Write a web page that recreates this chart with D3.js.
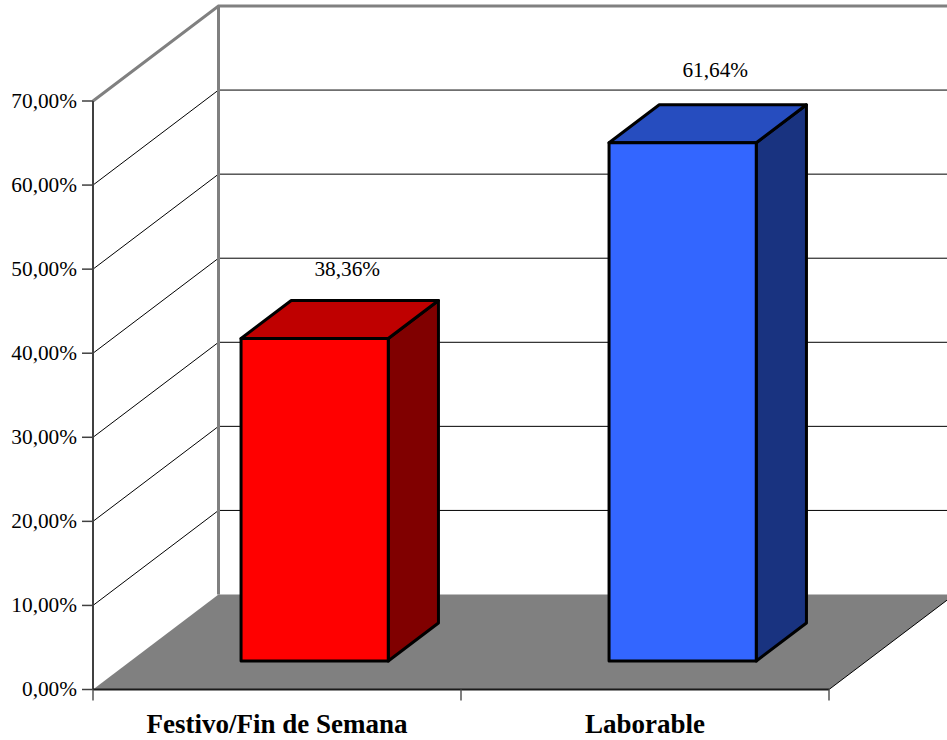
<!DOCTYPE html>
<html><head><meta charset="utf-8">
<script src="https://cdn.jsdelivr.net/npm/d3@7/dist/d3.min.js"></script>
<style>html,body{margin:0;padding:0;background:#fff;overflow:hidden}svg{display:block}text{font-family:"Liberation Serif",serif;fill:#000}</style>
</head><body><svg id="c" width="947" height="740"></svg>
<script>
const categories = ["Festivo/Fin de Semana", "Laborable"];
const values = [38.36, 61.64];
const valueLabels = ["38,36%", "61,64%"];
const yTicks = [0, 10, 20, 30, 40, 50, 60, 70];
const faceColors = ["#ff0000", "#3366ff"];
const topColors = ["#bf0000", "#264dbf"];
const sideColors = ["#800000", "#193380"];

const svg = d3.select("#c");
const x = d3.scaleBand().domain(categories).range([93, 829]);
const y = d3.scaleLinear().domain([0, 70]).range([689.5, 101]);
const depthX = d3.scaleLinear().domain([0, 1]).range([0, 125.5]);
const depthY = d3.scaleLinear().domain([0, 1]).range([0, -95]);
const barDepth = [0.3, 0.7];
const barInset = 0.3;
const labelGap = [25, 28];
const P = (px, v, d) => [px + depthX(d), y(v) + depthY(d)];
const fmt = v => d3.format(".2f")(v).replace(".", ",") + "%";
const xEnd = x.range()[1], xStart = x.range()[0];
const poly = pts => "M" + pts.map(p => p.join(",")).join("L") + "Z";
const seg = (a, b) => "M" + a.join(",") + "L" + b.join(",");

// floor
svg.append("path").attr("d", poly([P(xStart,0,0), P(xEnd,0,0), P(xEnd,0,1), P(xStart,0,1)])).attr("fill", "#808080");

// gridlines
yTicks.slice(1, -1).forEach(t => {
  svg.append("path").attr("fill","none").attr("stroke","#000").attr("stroke-width",1)
    .attr("d", "M" + P(xStart,t,0).join(",") + "L" + P(xStart,t,1).join(",") + "L" + P(xEnd,t,1).join(","));
});

// wall outline
const yMax = yTicks[yTicks.length - 1];
svg.append("path").attr("fill","none").attr("stroke","#808080").attr("stroke-width",3)
  .attr("d", "M" + P(xStart,yMax,0).join(",") + "L" + P(xStart,yMax,1).join(",") + "L" + P(xEnd,yMax,1).join(","));
svg.append("path").attr("fill","none").attr("stroke","#808080").attr("stroke-width",3)
  .attr("d", seg(P(xStart,yMax,1), P(xStart,0,1)));
svg.append("path").attr("stroke","#000").attr("stroke-width",1).attr("d", seg(P(xEnd,0,0), P(xEnd,0,1)));

// axes
svg.append("path").attr("stroke","#404040").attr("stroke-width",2).attr("d", seg([xStart,y(70)],[xStart,y(0)]));
svg.append("path").attr("stroke","#1a1a1a").attr("stroke-width",2).attr("d", seg([xStart,y(0)],[xEnd,y(0)]));
yTicks.forEach(t => {
  svg.append("path").attr("stroke","#404040").attr("stroke-width",1.5).attr("d", seg([82,y(t)],[xStart,y(t)]));
  svg.append("text").attr("x",77).attr("y",y(t)+6.5).attr("text-anchor","end").attr("font-size",21.3).text(fmt(t));
});
[xStart, xStart + x.bandwidth(), xEnd].forEach(px => {
  svg.append("path").attr("stroke","#555").attr("stroke-width",1.5).attr("d", seg([px,y(0)],[px,y(0)+11]));
});

// bars
categories.forEach((c, i) => {
  const x0 = x(c) + barInset * x.bandwidth();
  const x1 = x(c) + (1 - barInset) * x.bandwidth();
  const v = values[i], [d0, d1] = barDepth;
  const g = svg.append("g").attr("stroke","#000").attr("stroke-width",3).attr("stroke-linejoin","round");
  g.append("path").attr("fill",sideColors[i]).attr("d", poly([P(x1,0,d0),P(x1,v,d0),P(x1,v,d1),P(x1,0,d1)]));
  g.append("path").attr("fill",topColors[i]).attr("d", poly([P(x0,v,d0),P(x1,v,d0),P(x1,v,d1),P(x0,v,d1)]));
  g.append("path").attr("fill",faceColors[i]).attr("d", poly([P(x0,0,d0),P(x1,0,d0),P(x1,v,d0),P(x0,v,d0)]));
  const top = P((x0 + x1) / 2, v, d1);
  svg.append("text").attr("x", x(c) + x.bandwidth()/2 + depthX(0.56)).attr("y", top[1] - labelGap[i])
    .attr("text-anchor","middle").attr("font-size",21.3).text(valueLabels[i]);
  svg.append("text").attr("x", x(c) + x.bandwidth()/2).attr("y", 733)
    .attr("text-anchor","middle").attr("font-size",27).attr("font-weight","bold").text(c);
});
</script></body></html>
